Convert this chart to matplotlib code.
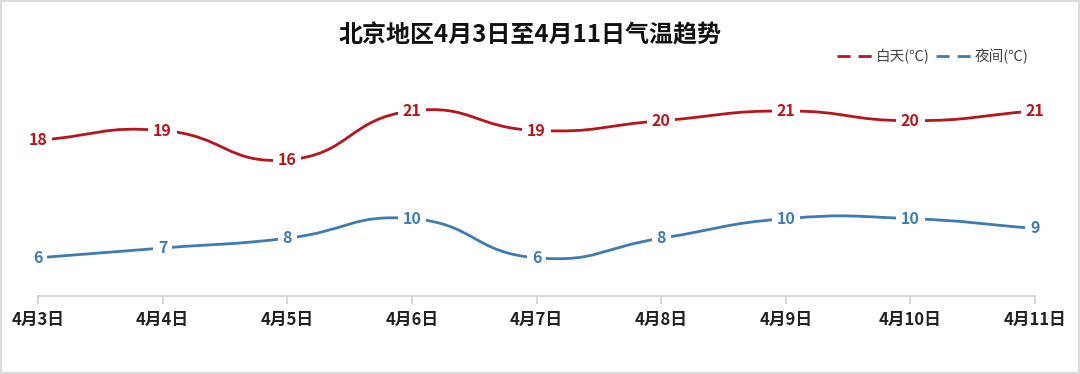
import matplotlib
matplotlib.use("Agg")
import matplotlib.pyplot as plt
from matplotlib.path import Path
from matplotlib.patches import PathPatch, Rectangle
from matplotlib.lines import Line2D
import numpy as np

plt.rcParams['font.family'] = ['Noto Sans CJK SC', 'DejaVu Sans']

dates = ["4月3日", "4月4日", "4月5日", "4月6日", "4月7日", "4月8日", "4月9日", "4月10日", "4月11日"]
day_temp = [18, 19, 16, 21, 19, 20, 21, 20, 21]
night_temp = [6, 7, 8, 10, 6, 8, 10, 10, 9]
title = "北京地区4月3日至4月11日气温趋势"
legend_labels = ["白天(℃)", "夜间(℃)"]

RED = "#b8141c"
BLUE = "#3d7bb0"

fig = plt.figure(figsize=(10.8, 3.74), dpi=100)
ax = fig.add_axes([38/1080, (374-296)/374, (1035-38)/1080, (296-60)/374])
ax.set_xlim(0, len(dates) - 1)
ax.set_ylim(2.1, 26.2)


def smooth_path(xs, ys, smooth=0.5):
    pts = np.column_stack([xs, ys]).astype(float)
    n = len(pts)
    sx, sy = 124.6, 9.8
    cps_in, cps_out = [], []
    for i in range(n):
        p = pts[i]
        prev = pts[i-1] if i > 0 else p
        nxt = pts[i+1] if i < n-1 else p
        v = nxt - prev
        d0 = np.hypot((p[0]-prev[0])*sx, (p[1]-prev[1])*sy)
        d1 = np.hypot((nxt[0]-p[0])*sx, (nxt[1]-p[1])*sy)
        tot = d0 + d1
        if tot == 0:
            cps_in.append(p.copy()); cps_out.append(p.copy()); continue
        cps_in.append(p - v * smooth * d0 / tot)
        cps_out.append(p + v * smooth * d1 / tot)
    verts = [pts[0]]
    codes = [Path.MOVETO]
    for i in range(n - 1):
        verts += [cps_out[i], cps_in[i+1], pts[i+1]]
        codes += [Path.CURVE4] * 3
    return Path(verts, codes)


x = np.arange(len(dates))
for vals, col in [(day_temp, RED), (night_temp, BLUE)]:
    path = smooth_path(x, vals)
    ax.add_patch(PathPatch(path, fc='none', ec=col, lw=2.0, zorder=2, capstyle='round'))
    for xi, v in zip(x, vals):
        ax.text(xi, v, str(v), color=col, fontsize=11.5, fontweight='bold',
                ha='center', va='center', zorder=5,
                bbox=dict(fc='white', ec='none', pad=3.5))

for s in ['top', 'right', 'left']:
    ax.spines[s].set_visible(False)
ax.spines['bottom'].set_color('#d0d0d0')
ax.spines['bottom'].set_linewidth(1.2)
ax.set_yticks([])
ax.set_xticks(x)
ax.set_xticklabels(dates, fontsize=12, fontweight='bold', color='#222222')
ax.tick_params(axis='x', length=6, color='#d0d0d0', width=1.2, pad=5)
for lbl in ax.get_xticklabels():
    lbl.set_clip_on(False)

fig.text(530/1080, 1 - 35/374, title, ha='center', va='center', fontsize=17.3,
         fontweight='bold', color='#111111')

handles = [Line2D([0], [0], color=RED, lw=2, ls=(0, (4.7, 2.9))),
           Line2D([0], [0], color=BLUE, lw=2, ls=(0, (4.7, 2.9)))]
fig.legend(handles, legend_labels, loc='center right', bbox_to_anchor=(1042/1080, 1 - 56/374),
           ncol=2, frameon=False, fontsize=10.5, handlelength=2.4, handletextpad=0.3,
           columnspacing=0.4, labelcolor='#444444')

fig.patches.append(Rectangle((0, 0), 1, 1, transform=fig.transFigure, fill=False,
                             ec='#dcdcdc', lw=3, zorder=0))

fig.savefig("out.png", dpi=100, facecolor='white')
